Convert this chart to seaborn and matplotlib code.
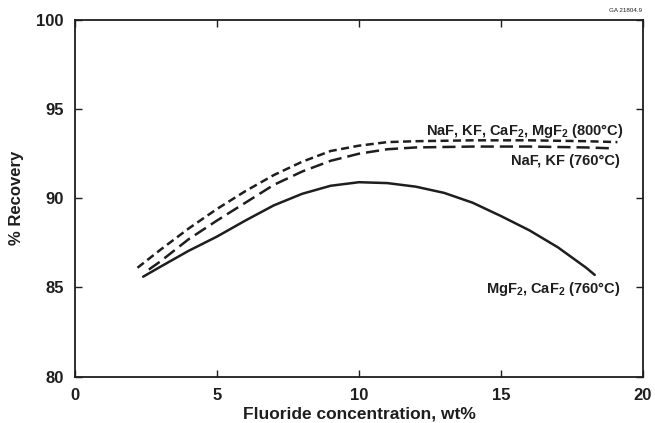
import numpy as np
import pandas as pd
import matplotlib
matplotlib.use("Agg")
import matplotlib.pyplot as plt
import seaborn as sns

# Recovery curves vs. fluoride salt concentration
x_800 = [2.2, 3, 4, 5, 6, 7, 8, 9, 10, 11, 12, 14, 16, 18, 19.1]
y_800 = [86.1, 87.1, 88.3, 89.4, 90.4, 91.3, 92.05, 92.65, 92.95, 93.15, 93.2, 93.25, 93.25, 93.2, 93.15]

x_naf_kf = [2.6, 3, 4, 5, 6, 7, 8, 9, 10, 11, 12, 14, 16, 18, 18.9]
y_naf_kf = [86.0, 86.45, 87.7, 88.75, 89.75, 90.75, 91.5, 92.1, 92.5, 92.75, 92.85, 92.9, 92.9, 92.85, 92.8]

x_mg_ca = [2.4, 3, 4, 5, 6, 7, 8, 9, 10, 11, 12, 13, 14, 15, 16, 17, 18, 18.3]
y_mg_ca = [85.6, 86.15, 87.05, 87.85, 88.75, 89.6, 90.25, 90.7, 90.9, 90.85, 90.65, 90.3, 89.75, 89.0, 88.2, 87.25, 86.1, 85.7]

series_names = ["800", "naf_kf", "mg_ca"]
series_labels = [
    "NaF, KF, CaF$_2$, MgF$_2$ (800°C)",
    "NaF, KF (760°C)",
    "MgF$_2$, CaF$_2$ (760°C)",
]

x_ticks = [0, 5, 10, 15, 20]
y_ticks = [80, 85, 90, 95, 100]

df = pd.concat([
    pd.DataFrame({"conc": x_800, "recovery": y_800, "series": "800"}),
    pd.DataFrame({"conc": x_naf_kf, "recovery": y_naf_kf, "series": "naf_kf"}),
    pd.DataFrame({"conc": x_mg_ca, "recovery": y_mg_ca, "series": "mg_ca"}),
], ignore_index=True)

sns.set_style("ticks")
ink = "#1e1e1e"
plt.rcParams["font.family"] = ["Liberation Sans", "DejaVu Sans"]
plt.rcParams["font.weight"] = "bold"
plt.rcParams["mathtext.fontset"] = "custom"
plt.rcParams["mathtext.rm"] = "Liberation Sans:bold"
plt.rcParams["mathtext.bf"] = "Liberation Sans:bold"
plt.rcParams["mathtext.default"] = "rm"
plt.rcParams["lines.scale_dashes"] = False

fig = plt.figure(figsize=(6.55, 4.23), dpi=100)
ax = fig.add_axes([75 / 655, 46.5 / 423, 568 / 655, 356.5 / 423])

sns.lineplot(
    data=df, x="conc", y="recovery", style="series",
    style_order=series_names,
    dashes={"800": (5.8, 3.2), "naf_kf": (9.5, 4.3), "mg_ca": ""},
    color=ink, linewidth=1.8, sort=False, estimator=None,
    legend=False, ax=ax,
)

ax.set_xlim(0, 20)
ax.set_ylim(80, 100)
ax.set_xticks(x_ticks)
ax.set_yticks(y_ticks)
ax.tick_params(direction="in", top=True, right=True, length=5, width=1.0,
               color=ink, labelsize=12, labelcolor=ink)
ax.tick_params(axis="x", pad=8)
ax.tick_params(axis="y", pad=8)
for lbl in ax.get_xticklabels() + ax.get_yticklabels():
    lbl.set_fontweight("bold")
for sp in ax.spines.values():
    sp.set_linewidth(1.3)
    sp.set_color(ink)

ax.set_xlabel("Fluoride concentration, wt%", fontsize=12.5, fontweight="bold",
              color=ink, labelpad=3)
ax.set_ylabel("% Recovery", fontsize=12, fontweight="bold", color=ink, labelpad=9)

label_pos = [(19.33, 93.8), (19.19, 92.1), (19.19, 84.9)]
for (tx, ty), txt in zip(label_pos, series_labels):
    ax.text(tx, ty, txt, ha="right", va="center", fontsize=10.5,
            fontweight="bold", color=ink)

fig.text(642 / 655, 1 - 10 / 423, "GA 21804.9", ha="right", va="center",
         fontsize=4.5, color=ink, fontweight="normal")

fig.savefig("out.png", dpi=100)
